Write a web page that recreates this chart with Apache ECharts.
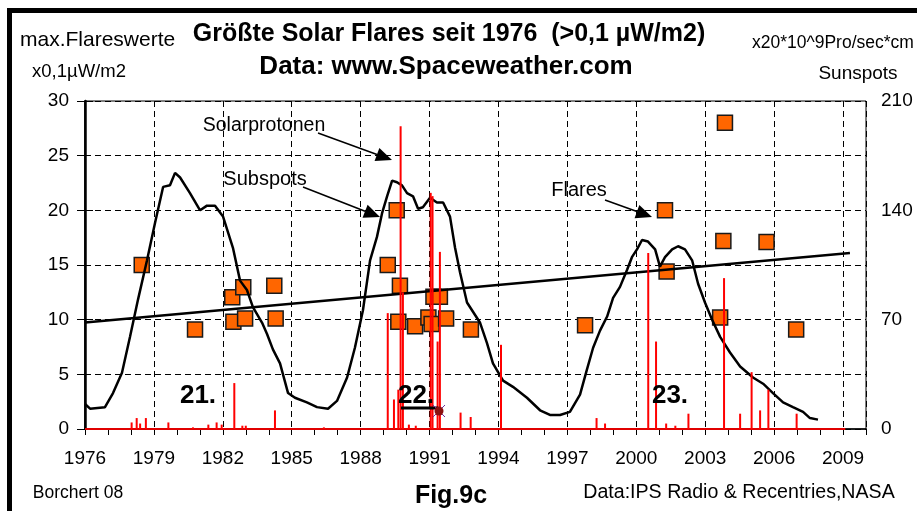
<!DOCTYPE html>
<html>
<head>
<meta charset="utf-8">
<script src="https://cdn.jsdelivr.net/npm/echarts@6/dist/echarts.min.js"></script>
<style>
html,body{margin:0;padding:0;background:#fff;}
#chart{width:917px;height:511px;}
</style>
</head>
<body>
<div id="chart"></div>
<script>
/*
* Groesste Solar Flares seit 1976 - Sonnenflecken, Flares, Solarprotonen
*/
var startYear = 1976;

// geglaettete Sonnenfleckenzahl [Jahr, Wert] (rechte Achse)
var sunspots = [
	[1976.00,16],[1976.22,13],[1976.87,14],[1977.22,23],[1977.61,36],[1977.96,59],
	[1978.31,83],[1978.70,108],[1979.05,132],[1979.40,155],[1979.70,156],[1979.92,164],
	[1980.14,161],[1980.57,151],[1981.01,140],[1981.31,143],[1981.66,143],[1982.01,136],
	[1982.44,116],[1982.75,95],[1983.05,89],[1983.31,78],[1983.71,68],[1983.92,61],
	[1984.18,51],[1984.49,42],[1984.84,23],[1985.14,20],[1985.66,17],[1986.10,14],
	[1986.58,13],[1986.97,18],[1987.41,33],[1987.75,52],[1988.10,76],[1988.41,108],
	[1988.71,123],[1988.93,138],[1989.15,149],[1989.37,159],[1989.58,158],[1989.80,156],
	[1990.02,151],[1990.28,149],[1990.50,141],[1990.71,142],[1991.02,148],[1991.32,145],
	[1991.59,145],[1991.89,136],[1992.11,116],[1992.33,100],[1992.63,81],[1993.20,68],
	[1993.50,55],[1993.76,42],[1994.20,31],[1994.63,27],[1995.24,20],[1995.81,12],
	[1996.24,9],[1996.68,9],[1997.11,11],[1997.55,22],[1997.85,38],[1998.12,52],
	[1998.42,63],[1998.73,72],[1998.99,84],[1999.29,91],[1999.60,102],[1999.81,110],
	[2000.03,115],[2000.25,121],[2000.51,120],[2000.82,115],[2001.03,104],[2001.25,110],
	[2001.56,115],[2001.82,117],[2002.12,115],[2002.43,108],[2002.69,93],[2002.99,81],
	[2003.30,70],[2003.65,59],[2004.08,49],[2004.52,40],[2005.08,33],[2005.52,29],
	[2005.95,23],[2006.39,17],[2006.82,14],[2007.26,11],[2007.56,7],[2007.91,6]
];

// max. Flareswerte x0,1 uW/m2 [Jahr, Wert]
var flares = [
	[1978.47,15.0],[1980.79,9.1],[1982.41,12.05],[1982.46,9.8],[1982.89,12.96],[1982.97,10.1],
	[1984.24,13.1],[1984.30,10.1],[1989.18,15.0],[1989.57,20.0],[1989.64,9.8],[1989.71,13.1],
	[1990.37,9.4],[1990.95,10.2],[1991.09,9.6],[1991.17,12.1],[1991.45,12.1],[1991.72,10.1],
	[1992.80,9.1],[1997.77,9.5],[2001.25,20.0],[2001.32,14.4],[2003.65,10.2],[2003.79,17.2],
	[2003.86,28.0],[2005.67,17.1],[2006.96,9.1]
];

// Solarprotonen [Jahr, Wert]
var protons = [
	[1978.03,0.6],[1978.25,1.0],[1978.40,0.5],[1978.65,1.0],[1979.63,0.6],[1980.70,0.15],
	[1981.37,0.4],[1981.73,0.6],[1981.95,0.4],[1982.50,4.2],[1982.85,0.3],[1983.00,0.3],
	[1984.27,1.7],[1986.40,0.15],[1989.18,10.6],[1989.45,2.7],[1989.64,3.6],[1989.74,27.7],
	[1989.84,12.5],[1990.10,0.4],[1990.40,0.3],[1991.05,21.6],[1991.13,21.3],[1991.35,8.0],
	[1991.45,16.2],[1992.35,1.5],[1992.79,1.1],[1994.11,7.7],[1998.27,1.0],[1998.64,0.5],
	[2000.52,16.1],[2000.86,8.0],[2001.30,0.5],[2001.70,0.3],[2002.27,1.4],[2003.82,13.8],
	[2004.52,1.4],[2005.02,5.2],[2005.39,1.7],[2005.75,3.6],[2006.98,1.4]
];

// Trendlinie der Flares
var trendYears = [1976, 2009.3];
var trendValues = [9.75, 16.1];

var leftTicks = [0, 30, 5];
var rightTicks = [0, 210, 70];

var FONT = '"Liberation Sans", Arial, sans-serif';

function shift(list){
	var out = [];
	for(var i=0;i<list.length;i++){
		out.push([+(list[i][0]-startYear).toFixed(3), list[i][1]]);
	}
	return out;
}
function trendData(){
	var out = [];
	for(var i=0;i<trendYears.length;i++){
		out.push([trendYears[i]-startYear, trendValues[i]]);
	}
	return out;
}
function txt(x,y,text,size,bold,align){
	return {
		type:'text', x:x, y:y, z:100,
		style:{text:text, font:(bold?'bold ':'')+size+'px '+FONT, fill:'#000',
			textAlign:align||'center', textVerticalAlign:'middle'}
	};
}
function arrow(x1,y1,x2,y2){
	var dx=x2-x1, dy=y2-y1, L=Math.sqrt(dx*dx+dy*dy), ux=dx/L, uy=dy/L;
	var bx=x2-ux*16, by=y2-uy*16;
	return [
		{type:'line', z:100, shape:{x1:x1,y1:y1,x2:bx,y2:by}, style:{stroke:'#000', lineWidth:1.5}},
		{type:'polygon', z:100, shape:{points:[[x2,y2],[bx-uy*7,by+ux*7],[bx+uy*7,by-ux*7]]}, style:{fill:'#000'}}
	];
}

var graphics = [
	{type:'rect', z:100, shape:{x:9.5,y:10.5,width:940,height:540}, style:{fill:'none', stroke:'#000', lineWidth:5}},
	txt(449,34,'Größte Solar Flares seit 1976  (>0,1 µW/m2)',25,true),
	txt(446,67,'Data: www.Spaceweather.com',26,true),
	txt(20,40,'max.Flareswerte',21,false,'left'),
	txt(32,72,'x0,1µW/m2',18.5,false,'left'),
	txt(752,43,'x20*10^9Pro/sec*cm',17.5,false,'left'),
	txt(858,74,'Sunspots',19,false),
	txt(264,126,'Solarprotonen',19.5,false),
	txt(265,179,'Subspots',20,false),
	txt(579,190,'Flares',20,false),
	txt(198,396,'21.',26,true),
	txt(416,396,'22.',26,true),
	txt(670,396,'23.',26,true),
	{type:'rect', z:100, shape:{x:401,y:406.5,width:37,height:3}, style:{fill:'#000'}},
	{type:'line', z:100, shape:{x1:433,y1:405,x2:445,y2:417}, style:{stroke:'#7030a0', lineWidth:1}},
	{type:'line', z:100, shape:{x1:445,y1:405,x2:433,y2:417}, style:{stroke:'#7030a0', lineWidth:1}},
	{type:'circle', z:101, shape:{cx:439,cy:411,r:4.5}, style:{fill:'#8b1010'}},
	txt(78,493,'Borchert 08',17.5,false),
	txt(451,496,'Fig.9c',25,true),
	txt(739,493,'Data:IPS Radio & Recentries,NASA',19.6,false)
].concat(arrow(318,133,392,160), arrow(303,187,380,217), arrow(605,200,652,217));

var dashed = {show:true, lineStyle:{color:'#000', width:1, type:[6,4]}};

var option = {
	backgroundColor:'#fff',
	animation:false,
	textStyle:{fontFamily:FONT},
	grid:{left:85, right:51, top:101, bottom:82, show:true, borderColor:'#000', borderWidth:1},
	xAxis:[{
		type:'value', min:0, max:34, interval:3,
		axisLine:{show:true, onZero:false, lineStyle:{color:'#000', width:1.5}},
		axisTick:{show:false},
		axisLabel:{color:'#000', fontSize:19, margin:20, showMaxLabel:false,
			formatter:function(v){ return v<=33 ? String(v+startYear) : ''; }},
		splitLine:dashed
	},{
		type:'value', min:0, max:34, interval:1, position:'bottom',
		axisLine:{show:false},
		axisTick:{show:true, length:6, lineStyle:{color:'#000', width:1}},
		axisLabel:{show:false},
		splitLine:{show:false}
	}],
	yAxis:[{
		type:'value', min:leftTicks[0], max:leftTicks[1], interval:leftTicks[2],
		axisLine:{show:true, lineStyle:{color:'#000', width:2.5}},
		axisTick:{show:true, length:8, lineStyle:{color:'#000'}},
		axisLabel:{color:'#000', fontSize:19, margin:16},
		splitLine:dashed
	},{
		type:'value', min:rightTicks[0], max:rightTicks[1], interval:rightTicks[2], position:'right',
		axisLine:{show:true, lineStyle:{color:'#000', width:1.5}},
		axisTick:{show:true, length:8, lineStyle:{color:'#000'}},
		axisLabel:{color:'#000', fontSize:19, margin:15},
		splitLine:{show:false}
	}],
	graphic:graphics,
	series:[{
		name:'Flares', type:'scatter', symbol:'rect', symbolSize:15, z:2,
		itemStyle:{color:'#ff6600', borderColor:'#1a1a1a', borderWidth:1.5, opacity:1},
		data:shift(flares)
	},{
		name:'Trend', type:'line', symbol:'none', z:3,
		lineStyle:{color:'#000', width:2.5},
		data:trendData()
	},{
		name:'Sunspots', type:'line', yAxisIndex:1, symbol:'none', z:4,
		lineStyle:{color:'#000', width:2.5},
		data:shift(sunspots)
	},{
		name:'Solarprotonen', type:'bar', barWidth:2, z:5,
		itemStyle:{color:'#ff0000'},
		data:shift(protons),
		markLine:{
			silent:true, symbol:'none', label:{show:false},
			lineStyle:{color:'#e00000', width:2, type:'solid'},
			data:[[{coord:[0,0]},{coord:[33.1,0]}]]
		}
	}]
};

var myChart = echarts.init(document.getElementById('chart'));
myChart.setOption(option);
</script>
</body>
</html>
